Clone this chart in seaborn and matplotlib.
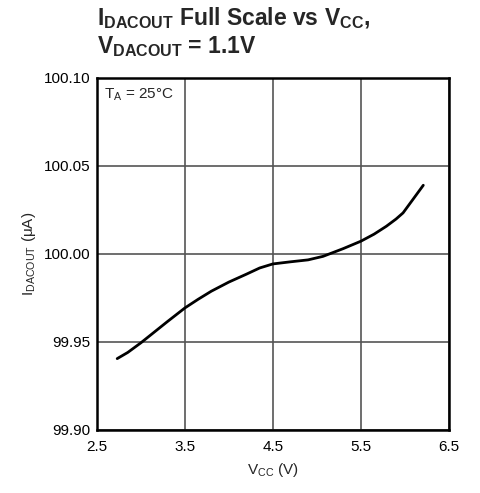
import matplotlib
matplotlib.use("Agg")
import matplotlib.pyplot as plt
import seaborn as sns
import pandas as pd

# values
vcc = [2.73, 2.85, 3.0, 3.15, 3.3, 3.5, 3.65, 3.8, 4.0, 4.2, 4.35, 4.5, 4.7, 4.9,
       5.07, 5.3, 5.5, 5.65, 5.79, 5.9, 5.98, 6.09, 6.21]
idac = [99.9405, 99.9440, 99.9495, 99.9555, 99.9615, 99.9693, 99.9742, 99.9788, 99.9840,
        99.9885, 99.9920, 99.9943, 99.9955, 99.9966, 99.9986, 100.0030, 100.0072,
        100.0112, 100.0157, 100.0198, 100.0233, 100.0308, 100.0390]
xticks = [2.5, 3.5, 4.5, 5.5, 6.5]
yticks = [99.90, 99.95, 100.00, 100.05, 100.10]

df = pd.DataFrame({"Vcc": vcc, "I": idac})

sns.set_style("white")
plt.rcParams["font.family"] = ["Liberation Sans", "DejaVu Sans"]
plt.rcParams["mathtext.fontset"] = "custom"
plt.rcParams["mathtext.rm"] = "Liberation Sans"
plt.rcParams["mathtext.it"] = "Liberation Sans:italic"
plt.rcParams["mathtext.bf"] = "Liberation Sans:bold"

fig = plt.figure(figsize=(4.8, 4.93), dpi=100)
ax = fig.add_axes([0.202, 0.128, 0.733, 0.714])

sns.lineplot(data=df, x="Vcc", y="I", ax=ax, color="black", linewidth=2)

ax.set_xlim(2.5, 6.5)
ax.set_ylim(99.90, 100.10)
ax.set_xticks(xticks)
ax.set_yticks(yticks)
ax.set_xticklabels([f"{t:.1f}" for t in xticks])
ax.set_yticklabels([f"{t:.2f}" for t in yticks])
ax.tick_params(axis="x", labelsize=11, length=0, pad=7, colors="black")
ax.tick_params(axis="y", labelsize=11, length=0, pad=5, colors="black")
ax.grid(True, color="#555555", linewidth=1.2)
for s in ax.spines.values():
    s.set_color("black")
    s.set_linewidth(1.8)

ax.set_xlabel(r"V$_{\rm CC}$ (V)", fontsize=11, labelpad=5)
ax.set_ylabel(r"I$_{\rm DACOUT}$ (μA)", fontsize=11, labelpad=4)

ax.text(0.02, 0.975, r"T$_{\rm A}$ = 25°C", transform=ax.transAxes, fontsize=11,
        va="top", ha="left")

fig.text(0.202, 0.99, r"I$_{\bf DACOUT}$ Full Scale vs V$_{\bf CC}$," + "\n" + r"V$_{\bf DACOUT}$ = 1.1V",
         fontsize=16.5, fontweight="bold", va="top", ha="left", linespacing=1.2)

plt.savefig("out.png", dpi=100)
